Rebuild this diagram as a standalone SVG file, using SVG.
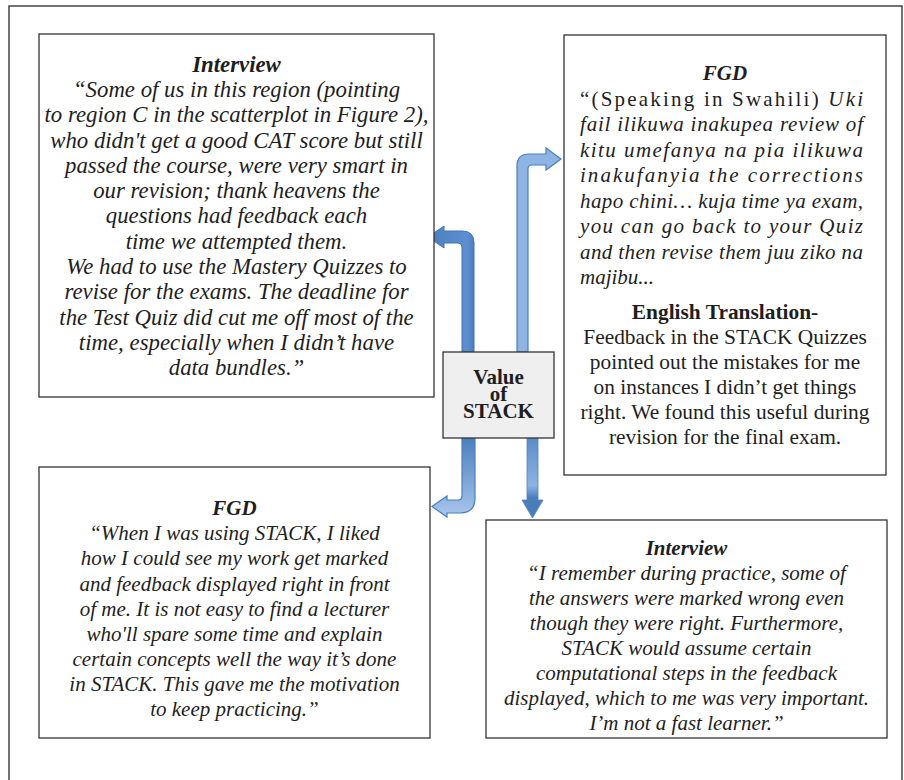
<svg xmlns="http://www.w3.org/2000/svg" width="904" height="780" viewBox="0 0 904 780">
<defs>
<style>
.box{fill:#fff;stroke:#333;stroke-width:1.3}
.t{font-family:"Liberation Serif","Times New Roman",serif;font-size:21px;fill:#1e1e1e;text-anchor:middle}
.i{font-style:italic}
.b{font-weight:bold}
.big{font-size:22.8px}
.en{font-size:21.4px}
.j{text-anchor:start}
</style>
<linearGradient id="gBL" x1="0" y1="0" x2="0" y2="1">
<stop offset="0" stop-color="#4a7ebb"/><stop offset="1" stop-color="#a9c7ec"/>
</linearGradient>
<linearGradient id="gBR" x1="0" y1="0" x2="0" y2="1">
<stop offset="0" stop-color="#5a8bc8"/><stop offset="0.6" stop-color="#8db3e2"/><stop offset="0.75" stop-color="#4a7ebb"/><stop offset="1" stop-color="#4a7ebb"/>
</linearGradient>
<linearGradient id="gTL" x1="0" y1="0" x2="1" y2="0">
<stop offset="0" stop-color="#4a7ebb"/><stop offset="0.85" stop-color="#5c90d0"/><stop offset="1" stop-color="#4a7ebb"/>
</linearGradient>
</defs>
<path d="M9,780 L9,6 L902,6 L902,780" fill="none" stroke="#444" stroke-width="1.5"/>
<g id="connectors">
<path id="arrow-tl" d="M462,352 L462,247 Q462,243 458,243 L444,243 L444,248 L428,237 L444,226 L444,231 L462,231 Q474,231 474,243 L474,352 Z" fill="url(#gTL)" stroke="#4173b0" stroke-width="1"/>
<path id="arrow-tr" d="M517,352 L517,166 Q517,154 529,154 L546,154 L546,148 L561,159 L546,170 L546,165 L532,165 Q528,165 528,169 L528,352 Z" fill="#8eb4e3" stroke="#4a7ebb" stroke-width="1.2"/>
<path id="arrow-bl" d="M462,437 L462,496 Q462,500 458,500 L447,500 L447,496 L432,506.5 L447,517 L447,513 L460,513 Q475,513 475,498 L475,437 Z" fill="url(#gBL)" stroke="#4a7ebb" stroke-width="1.2"/>
<path id="arrow-br" d="M527,437 L527,500 L522,500 L532.5,518 L543,500 L538,500 L538,437 Z" fill="url(#gBR)" stroke="#4f81bd" stroke-width="0.8"/>
</g>
<g id="box-tl">
<rect class="box" x="39" y="34" width="395" height="363"/>
<text class="t big i b" x="236.5" y="72">Interview</text>
<text class="t big i" x="236.5" y="97">“Some of us in this region (pointing</text>
<text class="t big i" x="236.5" y="122">to region C in the scatterplot in Figure 2),</text>
<text class="t big i" x="236.5" y="148">who didn't get a good CAT score but still</text>
<text class="t big i" x="236.5" y="173">passed the course, were very smart in</text>
<text class="t big i" x="236.5" y="198">our revision; thank heavens the</text>
<text class="t big i" x="236.5" y="223">questions had feedback each</text>
<text class="t big i" x="236.5" y="249">time we attempted them.</text>
<text class="t big i" x="236.5" y="274">We had to use the Mastery Quizzes to</text>
<text class="t big i" x="236.5" y="299">revise for the exams. The deadline for</text>
<text class="t big i" x="236.5" y="325">the Test Quiz did cut me off most of the</text>
<text class="t big i" x="236.5" y="350">time, especially when I didn’t have</text>
<text class="t big i" x="236.5" y="375">data bundles.”</text>
</g>
<g id="box-tr">
<rect class="box" x="564" y="35" width="322" height="440"/>
<text class="t i b" x="725" y="80">FGD</text>
<text class="t j" x="580" y="106" textLength="283" lengthAdjust="spacing">“(Speaking in Swahili) <tspan class="i">Uki</tspan></text>
<text class="t j i" x="580" y="131" textLength="283" lengthAdjust="spacing">fail ilikuwa inakupea review of</text>
<text class="t j i" x="580" y="157" textLength="283" lengthAdjust="spacing">kitu umefanya na pia ilikuwa</text>
<text class="t j i" x="580" y="182" textLength="283" lengthAdjust="spacing">inakufanyia the corrections</text>
<text class="t j i" x="580" y="208" textLength="283" lengthAdjust="spacing">hapo chini… kuja time ya exam,</text>
<text class="t j i" x="580" y="233" textLength="283" lengthAdjust="spacing">you can go back to your Quiz</text>
<text class="t j i" x="580" y="259" textLength="283" lengthAdjust="spacing">and then revise them juu ziko na</text>
<text class="t j i" x="580" y="284">majibu...</text>
<text class="t b en" x="725" y="319">English Translation-</text>
<text class="t en" x="725" y="344">Feedback in the STACK Quizzes</text>
<text class="t en" x="725" y="369">pointed out the mistakes for me</text>
<text class="t en" x="725" y="394">on instances I didn’t get things</text>
<text class="t en" x="725" y="419">right. We found this useful during</text>
<text class="t en" x="725" y="444">revision for the final exam.</text>
</g>
<g id="box-bl">
<rect class="box" x="39" y="467" width="391" height="271"/>
<text class="t i b" x="234.5" y="515">FGD</text>
<text class="t i" x="234.5" y="540">“When I was using STACK, I liked</text>
<text class="t i" x="234.5" y="565">how I could see my work get marked</text>
<text class="t i" x="234.5" y="591">and feedback displayed right in front</text>
<text class="t i" x="234.5" y="616">of me. It is not easy to find a lecturer</text>
<text class="t i" x="234.5" y="641">who'll spare some time and explain</text>
<text class="t i" x="234.5" y="666">certain concepts well the way it’s done</text>
<text class="t i" x="234.5" y="691">in STACK. This gave me the motivation</text>
<text class="t i" x="234.5" y="716">to keep practicing.”</text>
</g>
<g id="box-br">
<rect class="box" x="486" y="520" width="401" height="218"/>
<text class="t i b" x="686.5" y="555">Interview</text>
<text class="t i" x="686.5" y="580">“I remember during practice, some of</text>
<text class="t i" x="686.5" y="605">the answers were marked wrong even</text>
<text class="t i" x="686.5" y="630">though they were right. Furthermore,</text>
<text class="t i" x="686.5" y="655">STACK would assume certain</text>
<text class="t i" x="686.5" y="680">computational steps in the feedback</text>
<text class="t i" x="686.5" y="705">displayed, which to me was very important.</text>
<text class="t i" x="686.5" y="730">I’m not a fast learner.”</text>
</g>
<g id="value">
<rect x="443" y="352" width="111" height="86" fill="#efefef" stroke="#333" stroke-width="1.3"/>
<text class="t b" x="498.5" y="384">Value</text>
<text class="t b" x="498.5" y="401">of</text>
<text class="t b" x="498.5" y="418">STACK</text>
</g>
</svg>
